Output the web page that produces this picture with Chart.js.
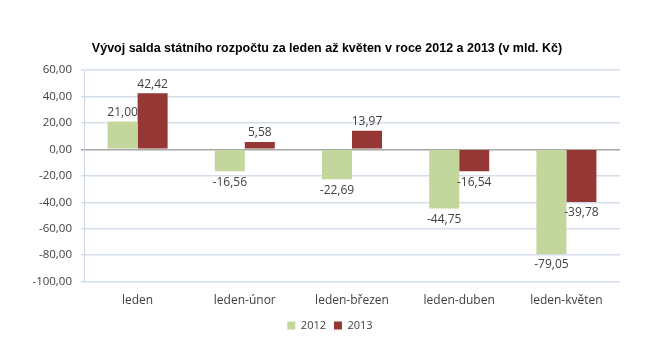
<!DOCTYPE html>
<html>
<head>
<meta charset="utf-8">
<script src="https://cdn.jsdelivr.net/npm/chart.js@4.4.0/dist/chart.umd.min.js"></script>
<style>
  html, body { margin: 0; padding: 0; background: #fff; }
  #wrap { width: 650px; height: 344px; }
</style>
</head>
<body>
<div id="wrap"><canvas id="budgetChart"></canvas></div>
<script>
const categories = ['leden', 'leden-únor', 'leden-březen', 'leden-duben', 'leden-květen'];
const values2012 = [21.00, -16.56, -22.69, -44.75, -79.05];
const values2013 = [42.42, 5.58, 13.97, -16.54, -39.78];
const seriesNames = ['2012', '2013'];

const fmt = v => v.toFixed(2).replace('.', ',');
const FONT = 'Open Sans, DejaVu Sans, sans-serif';

// value labels above positive bars, below negative ones
const valueLabels = {
  id: 'valueLabels',
  afterDatasetsDraw(chart) {
    const ctx = chart.ctx;
    ctx.save();
    ctx.font = '12px ' + FONT;
    ctx.fillStyle = '#404040';
    ctx.textAlign = 'center';
    chart.data.datasets.forEach((ds, i) => {
      const meta = chart.getDatasetMeta(i);
      meta.data.forEach((bar, j) => {
        const v = ds.data[j];
        if (v >= 0) {
          ctx.textBaseline = 'bottom';
          ctx.fillText(fmt(v), bar.x, bar.y - 3);
        } else {
          ctx.textBaseline = 'top';
          ctx.fillText(fmt(v), bar.x, bar.y + 5);
        }
      });
    });
    ctx.restore();
  }
};

// title and legend sit a bit right of the canvas centre, as in the original
const boxShift = {
  id: 'boxShift',
  afterLayout(chart) {
    const lg = chart.legend;
    if (lg) { lg.left += 20; lg.right += 20; }
    const tt = chart.titleBlock;
    if (tt) { tt.left += 17; tt.right += 17; }
  }
};

new Chart(document.getElementById('budgetChart'), {
  type: 'bar',
  data: {
    labels: categories,
    datasets: [
      { label: seriesNames[0], data: values2012, backgroundColor: '#C3D69B' },
      { label: seriesNames[1], data: values2013, backgroundColor: '#953735' }
    ]
  },
  options: {
    responsive: true,
    maintainAspectRatio: false,
    animation: false,
    datasets: { bar: { categoryPercentage: 0.56, barPercentage: 1 } },
    layout: { padding: { top: 30, right: 30, bottom: 3, left: 0 } },
    plugins: {
      title: {
        display: true,
        text: 'Vývoj salda státního rozpočtu za leden až květen v roce 2012 a 2013 (v mld. Kč)',
        color: '#000',
        font: { family: 'Liberation Sans, sans-serif', size: 12.5, weight: 'bold' },
        padding: { top: 11, bottom: 14 }
      },
      legend: {
        position: 'bottom',
        labels: {
          color: '#404040',
          font: { family: FONT, size: 11 },
          boxWidth: 8,
          boxHeight: 8,
          padding: 8
        }
      },
      tooltip: { enabled: false }
    },
    scales: {
      x: {
        grid: { display: false },
        border: { display: false },
        ticks: { color: '#404040', font: { family: FONT, size: 12 }, padding: 4 }
      },
      y: {
        min: -100,
        max: 60,
        afterFit(scale) { scale.width = 84; },
        ticks: {
          stepSize: 20,
          color: '#404040',
          font: { family: FONT, size: 11.5 },
          padding: 9,
          callback: v => fmt(v)
        },
        grid: {
          color: c => c.tick && c.tick.value === 0 ? '#A6A6A6' : '#D5DFEC',
          tickLength: 3,
          lineWidth: 1.5
        },
        border: { color: '#C9D4E3' }
      }
    }
  },
  plugins: [valueLabels, boxShift]
});
</script>
</body>
</html>
